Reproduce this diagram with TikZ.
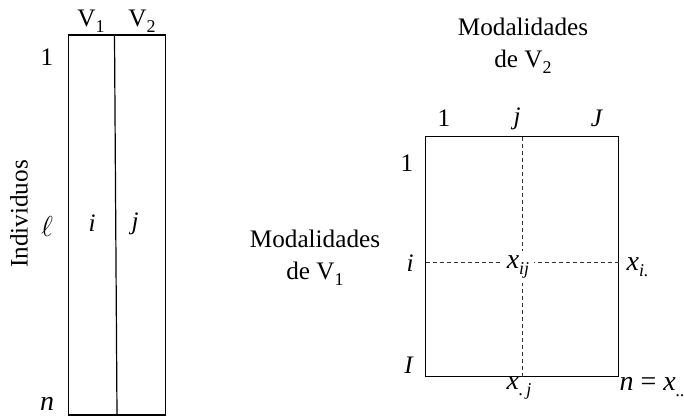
\documentclass[tikz,border=0pt]{standalone}
\usepackage{fontspec}
\setmainfont{Liberation Serif}
\newcommand{\lowsub}[1]{\raisebox{-3pt}{\fontsize{9}{10}\selectfont #1}}
\begin{document}
\begin{tikzpicture}[x=0.5pt, y=-0.5pt, font=\fontsize{12.6}{16}\selectfont,
    line width=0.6pt,
    lbl/.style={inner sep=0pt},
    cell/.style={inner sep=2pt, font=\fontsize{14}{16}\selectfont},
    guide/.style={line width=0.5pt, dash pattern=on 2pt off 1.5pt, black!80}]
    \useasboundingbox (0,0) rectangle (684,418);

    % Individuals by variables table
    \draw (68.5,35) rectangle (165.5,415);
    \draw (114.5,35) -- (117,415);
    \node[lbl] (v1) at (91,21) {V\lowsub{1}};
    \node[lbl] (v2) at (142,21) {V\lowsub{2}};
    \node[lbl] (r1) at (47,57) {1};
    \node[lbl] (rl) at (47,226) {\fontsize{14}{16}\selectfont$\ell$};
    \node[lbl] (rn) at (47,404) {\fontsize{14}{16}\selectfont\textit{n}};
    \node[lbl] (ci) at (92,223) {\textit{i}};
    \node[lbl] (cj) at (135,224) {\textit{j}};
    \node[lbl, rotate=90] (ind) at (19,214) {Individuos};

    % Contingency table
    \draw (425.5,136.5) rectangle (618.5,376.5);
    \node[lbl, align=center] (mod2) at (523,46) {Modalidades\\de V\lowsub{2}};
    \node[lbl, align=center] (mod1) at (315,258) {Modalidades\\de V\lowsub{1}};
    \node[lbl] (c1) at (444,118) {1};
    \node[lbl] (cjj) at (517,119) {\textit{j}};
    \node[lbl] (cJ) at (597,118) {\textit{J}};
    \node[lbl] (rr1) at (407,163) {1};
    \node[lbl] (rri) at (410,263) {\textit{i}};
    \node[lbl] (rrI) at (409,365) {\textit{I}};
    \node[cell] (xij) at (518,267) {\textit{x}\lowsub{\textit{ij}}};
    \node[cell, inner sep=0pt, anchor=west] (xi) at (626,267) {\textit{x}\lowsub{\textit{i.}}};
    \node[cell, inner sep=0pt] (xj) at (519,388) {\textit{x}\lowsub{\textit{.\,j}}};
    \node[cell, inner sep=0pt, anchor=west] (nx) at (619,387) {\textit{n} = \textit{x}\lowsub{\textit{..}}};

    % Guide lines through x_ij
    \coordinate (gtop) at (522.5,136.5);
    \coordinate (gbot) at (522.5,376.5);
    \coordinate (gleft) at (425.5,262);
    \coordinate (gright) at (618.5,262);
    \draw[guide] (gtop) -- (gtop |- xij.north);
    \draw[guide] (gbot) -- (gbot |- xij.south);
    \draw[guide] (gleft) -- (xij.west |- gleft);
    \draw[guide] (gright) -- (xij.east |- gright);
\end{tikzpicture}
\end{document}
